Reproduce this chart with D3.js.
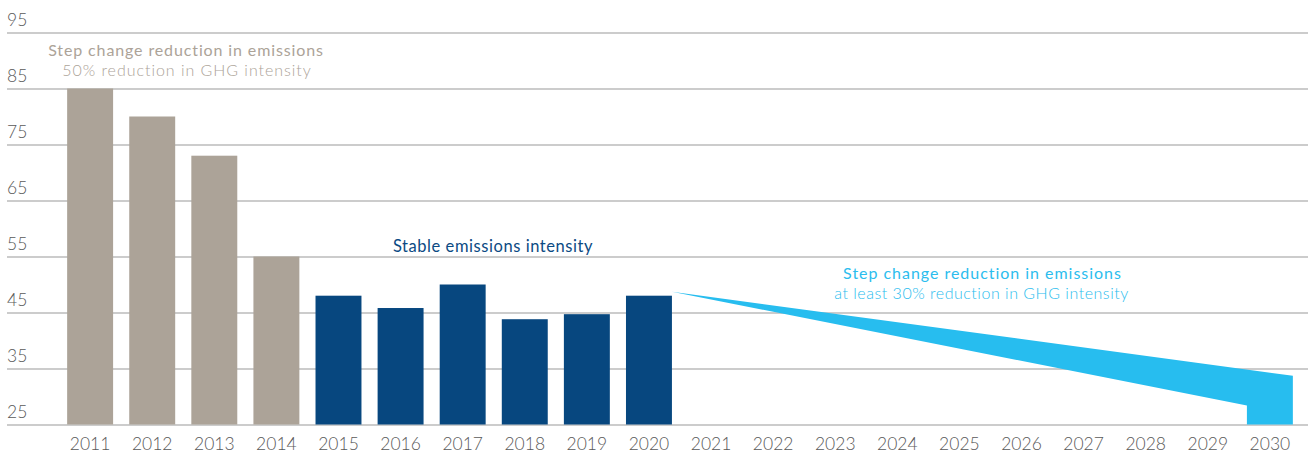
<!DOCTYPE html>
<html>
<head>
<meta charset="utf-8">
<script src="https://cdn.jsdelivr.net/npm/d3@7"></script>
<style>
  html, body { margin: 0; padding: 0; background: #ffffff; }
  svg { display: block; font-family: Lato, "Open Sans", sans-serif; }
</style>
</head>
<body>
<svg id="chart" width="1308" height="456"></svg>
<script>
// ---- data ----
const years = ["2011","2012","2013","2014","2015","2016","2017","2018","2019","2020",
               "2021","2022","2023","2024","2025","2026","2027","2028","2029","2030"];
const phase1Years = ["2011","2012","2013","2014"];
const phase1Values = [85, 80, 73, 55];
const phase2Years = ["2015","2016","2017","2018","2019","2020"];
const phase2Values = [48, 45.8, 50, 43.8, 44.7, 48];
// target wedge (2020 -> 2030)
const wedgeYears = ["2020", "2030"];
const wedgeStart = 48.7;
const wedgeUpperEnd = 33.7;
const wedgeLowerEnd = 28.4;
const yTicks = [25, 35, 45, 55, 65, 75, 85, 95];
const yDomain = [25, 95];

// ---- setup ----
const W = 1308, H = 456;
const svg = d3.select("#chart");
const x = d3.scaleBand().domain(years).range([51, 1309]).padding(0.26);
const y = d3.scaleLinear().domain(yDomain).range([424.5, 32.5]);

const colGrey = "#aca398", colBlue = "#07477f", colCyan = "#27bdef";

// gridlines + y labels
const yAxis = svg.append("g").attr("transform", "translate(7,0)")
  .call(d3.axisRight(y).tickValues(yTicks).tickSize(W - 7).tickFormat(d3.format("d")));
yAxis.select(".domain").remove();
yAxis.selectAll(".tick line").attr("stroke", "#cccccc").attr("stroke-width", 2);
yAxis.selectAll(".tick text")
  .attr("x", 0).attr("dy", 0).attr("y", -7.5)
  .attr("text-anchor", "start")
  .attr("fill", "#595959")
  .style("font-family", "Lato, sans-serif")
  .style("font-weight", 300)
  .style("font-size", "17.5px");

// x axis labels
const xAxis = svg.append("g").attr("transform", `translate(0,${y(yDomain[0])})`)
  .call(d3.axisBottom(x).tickSize(0));
xAxis.select(".domain").remove();
xAxis.selectAll(".tick text")
  .attr("y", 25).attr("dy", 0)
  .attr("fill", "#595959")
  .style("font-family", "Lato, sans-serif")
  .style("font-weight", 300)
  .style("font-size", "17.5px");

// bars
function drawBars(cats, vals, color) {
  svg.append("g").selectAll("rect").data(cats.map((c, i) => ({c, v: vals[i]})))
    .join("rect")
    .attr("x", d => x(d.c))
    .attr("width", x.bandwidth())
    .attr("y", d => y(d.v))
    .attr("height", d => y(yDomain[0]) - y(d.v))
    .attr("fill", color);
}
drawBars(phase1Years, phase1Values, colGrey);
drawBars(phase2Years, phase2Values, colBlue);

// wedge
const x0 = x(wedgeYears[0]) + x.bandwidth();
const xEndL = x(wedgeYears[1]);
const xEndR = x(wedgeYears[1]) + x.bandwidth();
const wedgePts = [
  [x0, y(wedgeStart)],
  [xEndR, y(wedgeUpperEnd)],
  [xEndR, y(yDomain[0])],
  [xEndL, y(yDomain[0])],
  [xEndL, y(wedgeLowerEnd)]
];
svg.append("path")
  .attr("d", d3.line()(wedgePts) + "Z")
  .attr("fill", colCyan);

// annotations (fixed font size, letter-spacing fitted to the reference width)
function label(txt, cx, by, color, weight, size, targetW) {
  const t = svg.append("text")
    .attr("x", cx).attr("y", by)
    .attr("text-anchor", "middle")
    .attr("fill", color)
    .style("font-family", "Lato, sans-serif")
    .style("font-weight", weight)
    .style("font-size", size + "px")
    .text(txt);
  const w = t.node().getComputedTextLength();
  if (w > 0 && targetW > w) {
    t.style("letter-spacing", ((targetW - w) / txt.length).toFixed(2) + "px");
  }
  return t;
}
label("Step change reduction in emissions", 186, 55.5, colGrey, 400, 16, 276);
label("50% reduction in GHG intensity", 187, 75.5, colGrey, 300, 16, 250);
label("Stable emissions intensity", 493, 252, "#0b4a83", 400, 16.5, 200);
label("Step change reduction in emissions", 982.5, 278.5, "#2bbdee", 400, 16, 279);
label("at least 30% reduction in GHG intensity", 981.5, 298.5, "#2bbdee", 300, 16, 295);
</script>
</body>
</html>
